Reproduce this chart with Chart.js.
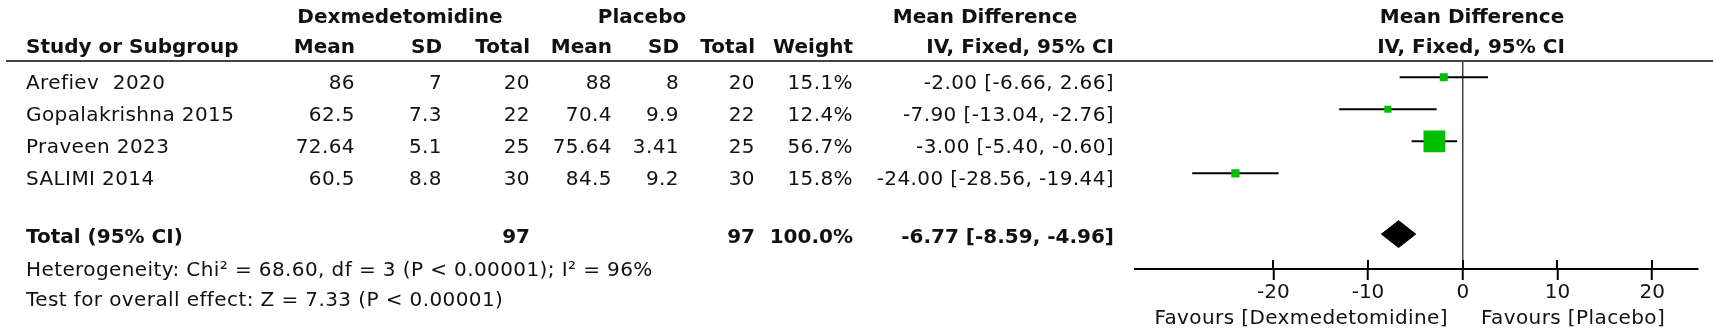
<!DOCTYPE html>
<html><head><meta charset="utf-8">
<script src="https://cdn.jsdelivr.net/npm/chart.js@4.4.1/dist/chart.umd.min.js"></script>
<style>
html,body{margin:0;padding:0;background:#fff;overflow:hidden}
#wrap{position:relative;width:1713px;height:331px}
#c{position:absolute;left:0;top:0}
.t{position:absolute;font-family:"DejaVu Sans",sans-serif;font-size:20px;line-height:24px;white-space:pre;color:#111;letter-spacing:0.4px}
.b{font-weight:bold;letter-spacing:0}
.r{transform:translateX(-100%)}
.cx{transform:translateX(-50%)}
#rule{position:absolute;left:6px;top:60px;width:1707px;height:2px;background:#444}
</style></head><body>
<div id="wrap"><canvas id="c" width="1713" height="331"></canvas><div id="rule"></div></div>
<script>
// ---------- data ----------
const studies  = ['Arefiev  2020', 'Gopalakrishna 2015', 'Praveen 2023', 'SALIMI 2014'];
const dexMean  = [86, 62.5, 72.64, 60.5];
const dexSD    = [7, 7.3, 5.1, 8.8];
const dexN     = [20, 22, 25, 30];
const plaMean  = [88, 70.4, 75.64, 84.5];
const plaSD    = [8, 9.9, 3.41, 9.2];
const plaN     = [20, 22, 25, 30];
const weights  = [15.1, 12.4, 56.7, 15.8];
const md       = [-2.00, -7.90, -3.00, -24.00];
const ciLow    = [-6.66, -13.04, -5.40, -28.56];
const ciHigh   = [2.66, -2.76, -0.60, -19.44];
const totalDexN = 97;
const totalPlaN = 97;
const totalWeight = 100.0;
const totalMD = -6.77;
const totalLow = -8.59;
const totalHigh = -4.96;
const xTicks = [-20, -10, 0, 10, 20];
const heterogeneityText = 'Heterogeneity: Chi\u00B2 = 68.60, df = 3 (P < 0.00001); I\u00B2 = 96%';
const overallText = 'Test for overall effect: Z = 7.33 (P < 0.00001)';
const favoursLeft = 'Favours [Dexmedetomidine]';
const favoursRight = 'Favours [Placebo]';

// ---------- layout (styles / positions) ----------
const wrap = document.getElementById('wrap');
function txt(s, x, baseline, align, bold) {
  const d = document.createElement('div');
  d.className = 't' + (bold ? ' b' : '') + (align === 'r' ? ' r' : align === 'c' ? ' cx' : '');
  d.textContent = s;
  d.style.left = x + 'px';
  d.style.top = (baseline - 19) + 'px';
  wrap.appendChild(d);
}
const col = {study: 26, dMean: 355, dSD: 442, dN: 530, pMean: 612, pSD: 679, pN: 755, w: 853, ci: 1114};
const fmtCI = (m, l, h) => m.toFixed(2) + ' [' + l.toFixed(2) + ', ' + h.toFixed(2) + ']';

// headers
txt('Dexmedetomidine', 400, 22.7, 'c', true);
txt('Placebo', 642, 22.7, 'c', true);
txt('Mean Difference', 985, 22.7, 'c', true);
txt('Mean Difference', 1472, 22.7, 'c', true);
txt('Study or Subgroup', col.study, 53.3, 'l', true);
txt('Mean', col.dMean, 53.3, 'r', true);
txt('SD', col.dSD, 53.3, 'r', true);
txt('Total', col.dN, 53.3, 'r', true);
txt('Mean', col.pMean, 53.3, 'r', true);
txt('SD', col.pSD, 53.3, 'r', true);
txt('Total', col.pN, 53.3, 'r', true);
txt('Weight', col.w, 53.3, 'r', true);
txt('IV, Fixed, 95% CI', col.ci, 53.3, 'r', true);
txt('IV, Fixed, 95% CI', 1471, 53.3, 'c', true);

// rows
const ROW_BASE0 = 89.3, ROW_STEP = 32;
studies.forEach((s, i) => {
  const b = ROW_BASE0 + i * ROW_STEP;
  txt(s, col.study, b, 'l');
  txt(String(dexMean[i]), col.dMean, b, 'r');
  txt(String(dexSD[i]), col.dSD, b, 'r');
  txt(String(dexN[i]), col.dN, b, 'r');
  txt(String(plaMean[i]), col.pMean, b, 'r');
  txt(String(plaSD[i]), col.pSD, b, 'r');
  txt(String(plaN[i]), col.pN, b, 'r');
  txt(weights[i].toFixed(1) + '%', col.w, b, 'r');
  txt(fmtCI(md[i], ciLow[i], ciHigh[i]), col.ci, b, 'r');
});
const TB = 243;
txt('Total (95% CI)', col.study, TB, 'l', true);
txt(String(totalDexN), col.dN, TB, 'r', true);
txt(String(totalPlaN), col.pN, TB, 'r', true);
txt(totalWeight.toFixed(1) + '%', col.w, TB, 'r', true);
txt(fmtCI(totalMD, totalLow, totalHigh), col.ci, TB, 'r', true);
txt(heterogeneityText, col.study, 275.5, 'l');
txt(overallText, col.study, 306, 'l');
txt(favoursLeft, 1448, 324, 'r');
txt(favoursRight, 1481, 324, 'l');

// ---------- chart ----------
const TOTAL_ROW = 4.9;       // vertical slot of the pooled estimate
const DIAMOND_HALF = 0.42;   // diamond half-height in row units
const GREEN = '#00c000';
const sideFor = w => 3 + w * 0.33;

const datasets = [];
datasets.push({
  label: 'studies',
  data: md.map((m, i) => ({x: m, y: i})),
  pointStyle: 'rect',
  pointRadius: ctx => sideFor(weights[ctx.dataIndex]) / Math.SQRT2,
  backgroundColor: GREEN,
  borderWidth: 0,
  showLine: false,
  order: 0
});
studies.forEach((s, i) => {
  datasets.push({
    label: s + ' CI',
    data: [{x: ciLow[i], y: i}, {x: ciHigh[i], y: i}],
    showLine: true,
    borderColor: '#000',
    borderWidth: 2,
    pointRadius: 0,
    order: 1
  });
});
datasets.push({
  label: 'total',
  data: [
    {x: totalLow, y: TOTAL_ROW},
    {x: totalMD, y: TOTAL_ROW - DIAMOND_HALF},
    {x: totalHigh, y: TOTAL_ROW},
    {x: totalMD, y: TOTAL_ROW + DIAMOND_HALF},
    {x: totalLow, y: TOTAL_ROW}
  ],
  showLine: true,
  fill: 'shape',
  backgroundColor: '#000',
  borderColor: '#000',
  borderWidth: 1,
  pointRadius: 0,
  tension: 0,
  order: 1
});

const upperTicks = {
  id: 'upperTicks',
  afterDraw(chart) {
    const s = chart.scales.x, ctx = chart.ctx, b = chart.chartArea.bottom;
    ctx.save();
    ctx.strokeStyle = '#000';
    ctx.lineWidth = 2;
    xTicks.forEach(v => {
      const px = Math.round(s.getPixelForValue(v));
      ctx.beginPath();
      ctx.moveTo(px, b - 9);
      ctx.lineTo(px, b);
      ctx.stroke();
    });
    ctx.restore();
  }
};

new Chart(document.getElementById('c'), {
  type: 'scatter',
  data: {datasets},
  options: {
    responsive: false,
    animation: false,
    events: [],
    devicePixelRatio: 1,
    layout: {padding: {left: 1135, top: 61, right: 0, bottom: 0}},
    plugins: {legend: {display: false}, tooltip: {enabled: false}},
    scales: {
      x: {
        type: 'linear',
        min: -34.6,
        max: 24.8,
        afterBuildTicks: sc => { sc.ticks = xTicks.map(v => ({value: v})); },
        afterFit: sc => { sc.height = 62; },
        border: {display: true, color: '#000', width: 2},
        grid: {
          drawOnChartArea: true,
          drawTicks: true,
          tickLength: 11,
          tickWidth: 2,
          tickColor: '#000',
          color: c => (c.tick && c.tick.value === 0) ? '#444' : 'rgba(0,0,0,0)',
          lineWidth: 1.5
        },
        ticks: {
          autoSkip: false,
          maxRotation: 0,
          minRotation: 0,
          padding: 3,
          color: '#111',
          font: {family: 'DejaVu Sans', size: 20, lineHeight: 1},
          callback: v => String(v)
        }
      },
      y: {
        type: 'linear',
        display: false,
        reverse: true,
        min: -0.51,
        max: 5.99
      }
    }
  },
  plugins: [upperTicks]
});
</script>
</body></html>
